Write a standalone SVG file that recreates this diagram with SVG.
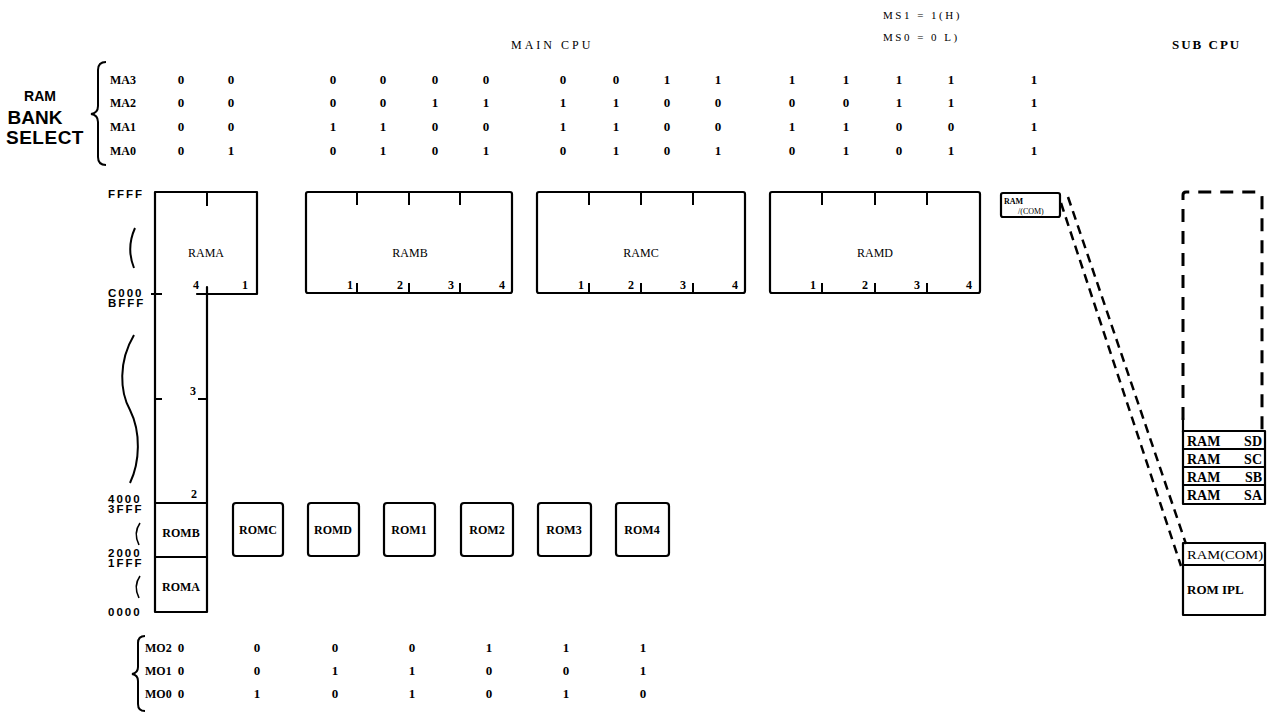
<svg xmlns="http://www.w3.org/2000/svg" width="1269" height="716" viewBox="0 0 1269 716">
<style>
.bg{fill:#fff}
.ln{fill:none;stroke:#000;stroke-width:2.2;stroke-linejoin:round;stroke-linecap:round}
.tk{fill:none;stroke:#000;stroke-width:2}
.dash{fill:none;stroke:#000;stroke-width:2.5;stroke-dasharray:9 6}
.dbox{fill:none;stroke:#000;stroke-width:3;stroke-dasharray:13 9}
.num{font-family:"Liberation Serif",serif;font-weight:bold;font-size:13px;text-anchor:middle}
.lab{font-family:"Liberation Serif",serif;font-weight:bold;font-size:12px}
.ttl{font-family:"Liberation Serif",serif;font-size:12px;letter-spacing:3px}
.addr{font-family:"Liberation Sans",sans-serif;font-weight:bold;font-size:11.5px;letter-spacing:2px}
.bx{font-family:"Liberation Serif",serif;font-size:12px;text-anchor:middle}
.rom{font-family:"Liberation Serif",serif;font-weight:bold;font-size:12px;text-anchor:middle}
.sub{font-family:"Liberation Serif",serif;font-size:14px;font-weight:bold}
.sm{font-family:"Liberation Serif",serif;font-size:12px;font-weight:bold}
</style>
<rect class="bg" x="0" y="0" width="1269" height="716"/>

<!-- Titles -->
<g id="titles">
<text class="ttl" x="511" y="49">MAIN  CPU</text>
<text class="ttl" x="883" y="19" style="font-size:11px;letter-spacing:2.5px">MS1 = 1(H)</text>
<text class="ttl" x="883" y="41" style="font-size:11px;letter-spacing:2.5px">MS0 = 0  L)</text>
<text class="ttl" x="1172" y="49" style="font-weight:bold;font-size:13px;letter-spacing:2px">SUB CPU</text>
</g>

<!-- RAM bank select table -->
<g id="bank-select">
<text x="40" y="101" style="font-family:'Liberation Sans',sans-serif;font-weight:bold;font-size:14px;text-anchor:middle">RAM</text>
<text x="35" y="124" style="font-family:'Liberation Sans',sans-serif;font-weight:bold;font-size:19px;text-anchor:middle">BANK</text>
<text x="45" y="144" style="font-family:'Liberation Sans',sans-serif;font-weight:bold;font-size:19px;text-anchor:middle;letter-spacing:0.5px">SELECT</text>
<path class="tk" d="M106,62 Q98,62 98,70 L98,106 Q98,113 91,114 Q98,115 98,122 L98,157 Q98,165 106,165"/>
<text class="lab" x="110" y="84">MA3</text>
<text class="lab" x="110" y="107">MA2</text>
<text class="lab" x="110" y="131">MA1</text>
<text class="lab" x="110" y="155">MA0</text>
<g class="num">
<text x="181" y="84">0</text><text x="231" y="84">0</text>
<text x="333" y="84">0</text><text x="383" y="84">0</text><text x="435" y="84">0</text><text x="486" y="84">0</text>
<text x="563" y="84">0</text><text x="616" y="84">0</text><text x="667" y="84">1</text><text x="718" y="84">1</text>
<text x="792" y="84">1</text><text x="846" y="84">1</text><text x="899" y="84">1</text><text x="951" y="84">1</text>
<text x="1034" y="84">1</text>

<text x="181" y="107">0</text><text x="231" y="107">0</text>
<text x="333" y="107">0</text><text x="383" y="107">0</text><text x="435" y="107">1</text><text x="486" y="107">1</text>
<text x="563" y="107">1</text><text x="616" y="107">1</text><text x="667" y="107">0</text><text x="718" y="107">0</text>
<text x="792" y="107">0</text><text x="846" y="107">0</text><text x="899" y="107">1</text><text x="951" y="107">1</text>
<text x="1034" y="107">1</text>

<text x="181" y="131">0</text><text x="231" y="131">0</text>
<text x="333" y="131">1</text><text x="383" y="131">1</text><text x="435" y="131">0</text><text x="486" y="131">0</text>
<text x="563" y="131">1</text><text x="616" y="131">1</text><text x="667" y="131">0</text><text x="718" y="131">0</text>
<text x="792" y="131">1</text><text x="846" y="131">1</text><text x="899" y="131">0</text><text x="951" y="131">0</text>
<text x="1034" y="131">1</text>

<text x="181" y="155">0</text><text x="231" y="155">1</text>
<text x="333" y="155">0</text><text x="383" y="155">1</text><text x="435" y="155">0</text><text x="486" y="155">1</text>
<text x="563" y="155">0</text><text x="616" y="155">1</text><text x="667" y="155">0</text><text x="718" y="155">1</text>
<text x="792" y="155">0</text><text x="846" y="155">1</text><text x="899" y="155">0</text><text x="951" y="155">1</text>
<text x="1034" y="155">1</text>
</g>
</g>

<!-- Address axis -->
<g id="address-axis">
<text class="addr" x="108" y="198">FFFF</text>
<text class="addr" x="108" y="297">C000</text>
<text class="addr" x="108" y="307">BFFF</text>
<text class="addr" x="108" y="503">4000</text>
<text class="addr" x="108" y="513">3FFF</text>
<text class="addr" x="108" y="557">2000</text>
<text class="addr" x="108" y="567">1FFF</text>
<text class="addr" x="108" y="616">0000</text>
<path class="tk" d="M135,228 Q126,248 134,268"/>
<path class="tk" d="M134,335 C118,362 120,392 130,410 C141,432 140,462 130,483"/>
<path class="tk" style="stroke-width:1.6" d="M140,523 Q133,533 139,545"/>
<path class="tk" style="stroke-width:1.6" d="M140,576 Q133,586 139,598"/>
</g>

<!-- RAMA column with ROMA / ROMB -->
<g id="rama">
<path class="ln" d="M197,294 L257,294 L257,192 L155,192 L155,612 L207,612 L207,287"/>
<line class="tk" x1="207" y1="192" x2="207" y2="206"/>
<line class="tk" x1="151" y1="294" x2="162" y2="294"/>
<line class="tk" x1="155" y1="399" x2="162" y2="399"/>
<line class="tk" x1="198" y1="399" x2="207" y2="399"/>
<text class="bx" x="206" y="257">RAMA</text>
<text class="sm" x="193" y="289">4</text>
<text class="sm" x="242" y="289">1</text>
<text class="sm" x="190" y="395">3</text>
<text class="sm" x="191" y="498">2</text>
</g>
<g id="romb">
<line class="tk" x1="155" y1="503" x2="207" y2="503"/>
<text class="rom" x="181" y="537">ROMB</text>
</g>
<g id="roma">
<line class="tk" x1="155" y1="557" x2="207" y2="557"/>
<text class="rom" x="181" y="591">ROMA</text>
</g>

<!-- RAMB -->
<g id="ramb">
<rect class="ln" x="306" y="192" width="206" height="101" rx="2"/>
<path class="tk" d="M357,192 V205 M409,192 V205 M460,192 V205 M357,293 V283 M409,293 V283 M460,293 V283"/>
<text class="bx" x="410" y="257">RAMB</text>
<text class="sm" x="347" y="289">1</text>
<text class="sm" x="397" y="289">2</text>
<text class="sm" x="448" y="289">3</text>
<text class="sm" x="499" y="289">4</text>
</g>

<!-- RAMC -->
<g id="ramc">
<rect class="ln" x="537" y="192" width="208" height="101" rx="2"/>
<path class="tk" d="M589,192 V205 M641,192 V205 M693,192 V205 M589,293 V283 M641,293 V283 M693,293 V283"/>
<text class="bx" x="641" y="257">RAMC</text>
<text class="sm" x="578" y="289">1</text>
<text class="sm" x="628" y="289">2</text>
<text class="sm" x="680" y="289">3</text>
<text class="sm" x="732" y="289">4</text>
</g>

<!-- RAMD -->
<g id="ramd">
<rect class="ln" x="770" y="192" width="210" height="101" rx="2"/>
<path class="tk" d="M822,192 V205 M875,192 V205 M927,192 V205 M822,293 V283 M875,293 V283 M927,293 V283"/>
<text class="bx" x="875" y="257">RAMD</text>
<text class="sm" x="810" y="289">1</text>
<text class="sm" x="862" y="289">2</text>
<text class="sm" x="914" y="289">3</text>
<text class="sm" x="966" y="289">4</text>
</g>

<!-- RAM(COM) main -->
<g id="ramcom-main">
<rect class="ln" x="1001" y="193" width="59" height="24" rx="2"/>
<text x="1004" y="204" style="font-family:'Liberation Serif',serif;font-size:8px;font-weight:bold">RAM</text>
<text x="1018" y="214" style="font-family:'Liberation Serif',serif;font-size:8px">/(COM)</text>
</g>

<!-- ROM boxes -->
<g id="romc"><rect class="ln" x="233" y="503" width="50" height="53" rx="3"/><text class="rom" x="258" y="534">ROMC</text></g>
<g id="romd"><rect class="ln" x="308" y="503" width="51" height="53" rx="3"/><text class="rom" x="333" y="534">ROMD</text></g>
<g id="rom1"><rect class="ln" x="384" y="503" width="51" height="53" rx="3"/><text class="rom" x="409" y="534">ROM1</text></g>
<g id="rom2"><rect class="ln" x="461" y="503" width="52" height="53" rx="3"/><text class="rom" x="487" y="534">ROM2</text></g>
<g id="rom3"><rect class="ln" x="538" y="503" width="53" height="53" rx="3"/><text class="rom" x="564" y="534">ROM3</text></g>
<g id="rom4"><rect class="ln" x="616" y="503" width="53" height="53" rx="3"/><text class="rom" x="642" y="534">ROM4</text></g>

<!-- Sub CPU memory -->
<g id="sub-ram-space">
<path class="dbox" d="M1183,420 V195 Q1183,192 1186,192 H1257 Q1262,192 1262,197 V430"/>
<line class="ln" x1="1183" y1="418" x2="1183" y2="432"/>
</g>
<g id="sub-ram-banks">
<rect class="ln" x="1183" y="431" width="82" height="73"/>
<path class="tk" d="M1183,449 H1265 M1183,467 H1265 M1183,485 H1265"/>
<g class="sub">
<text x="1187" y="446">RAM</text><text x="1262" y="446" text-anchor="end">SD</text>
<text x="1187" y="464">RAM</text><text x="1262" y="464" text-anchor="end">SC</text>
<text x="1187" y="482">RAM</text><text x="1262" y="482" text-anchor="end">SB</text>
<text x="1187" y="500">RAM</text><text x="1262" y="500" text-anchor="end">SA</text>
</g>
</g>
<g id="sub-ramcom-rom-ipl">
<rect class="ln" x="1183" y="543" width="82" height="72"/>
<line class="tk" x1="1183" y1="565" x2="1265" y2="565"/>
<text x="1187" y="559" style="font-family:'Liberation Serif',serif;font-size:12px" textLength="76" lengthAdjust="spacingAndGlyphs">RAM(COM)</text>
<text x="1187" y="594" style="font-family:'Liberation Serif',serif;font-size:13px;font-weight:bold">ROM IPL</text>
</g>

<!-- Connectors -->
<g id="connectors">
<line class="dash" x1="1061" y1="203" x2="1181" y2="566"/>
<line class="dash" x1="1068" y1="197" x2="1186" y2="544"/>
</g>

<!-- Bottom ROM select table -->
<g id="rom-select">
<path class="tk" d="M145,636 Q138,636 138,643 L138,667 Q138,673 132,674 Q138,675 138,681 L138,704 Q138,711 145,711"/>
<text class="lab" x="145" y="652">MO2</text>
<text class="lab" x="145" y="675">MO1</text>
<text class="lab" x="145" y="698">MO0</text>
<g class="num">
<text x="181" y="652">0</text><text x="257" y="652">0</text><text x="335" y="652">0</text><text x="412" y="652">0</text><text x="489" y="652">1</text><text x="566" y="652">1</text><text x="643" y="652">1</text>
<text x="181" y="675">0</text><text x="257" y="675">0</text><text x="335" y="675">1</text><text x="412" y="675">1</text><text x="489" y="675">0</text><text x="566" y="675">0</text><text x="643" y="675">1</text>
<text x="181" y="698">0</text><text x="257" y="698">1</text><text x="335" y="698">0</text><text x="412" y="698">1</text><text x="489" y="698">0</text><text x="566" y="698">1</text><text x="643" y="698">0</text>
</g>
</g>
</svg>
